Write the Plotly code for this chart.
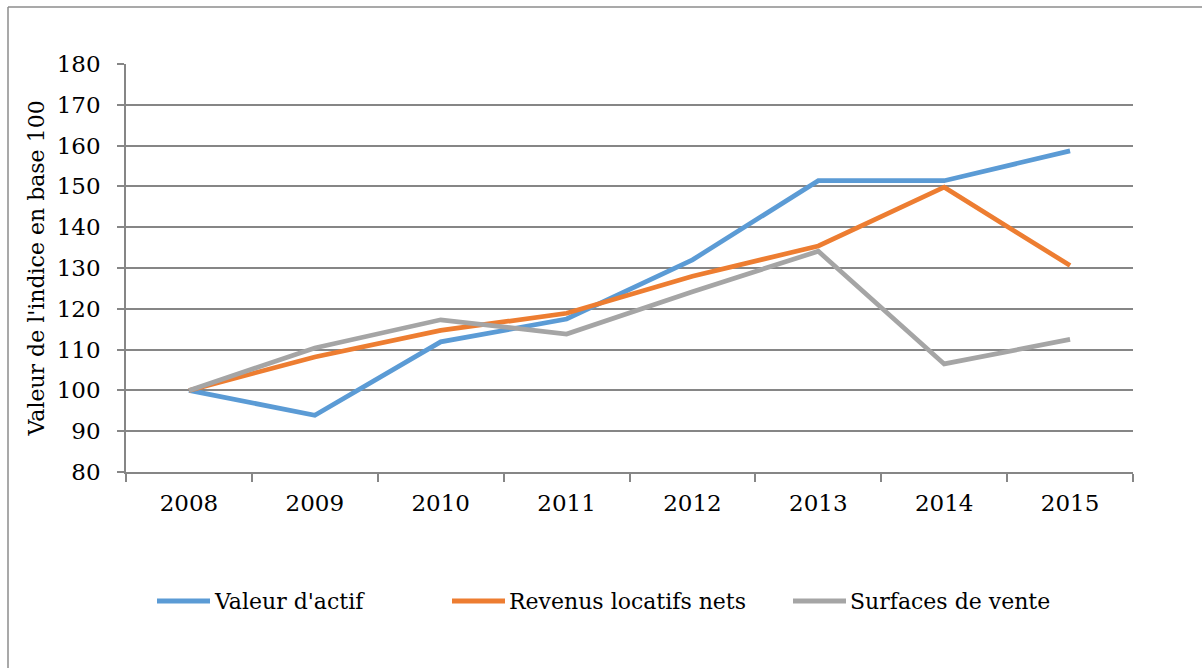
import plotly.graph_objects as go

years = ["2008", "2009", "2010", "2011", "2012", "2013", "2014", "2015"]
valeur_actif = [100, 93.9, 111.9, 117.5, 132, 151.4, 151.4, 158.7]
revenus_locatifs = [100, 108.2, 114.7, 118.9, 128, 135.4, 149.8, 130.6]
surfaces_vente = [100, 110.4, 117.3, 113.8, 124.2, 134.1, 106.5, 112.5]

series_names = ["Valeur d'actif", "Revenus locatifs nets", "Surfaces de vente"]
series_values = [valeur_actif, revenus_locatifs, surfaces_vente]
colors = ["#5B9BD5", "#ED7D31", "#A5A5A5"]

W, H = 1202, 668
ML, MR, MT, MB = 126, 69, 64, 196
PW, PH = W - ML - MR, H - MT - MB

def px_x(px):
    return (px - ML) / PW

def px_y(py):
    return (H - MB - py) / PH

FONT = "DejaVu Serif"
GRID = "#868686"

fig = go.Figure()
for name, vals, col in zip(series_names, series_values, colors):
    fig.add_trace(go.Scatter(
        x=years, y=vals, name=name, mode="lines",
        line=dict(color=col, width=4.7), showlegend=False,
    ))

# manual legend (line sample + label)
legend_x = [157, 452, 793]
legend_y = 601
shapes = []
annotations = []
for name, col, lx in zip(series_names, colors, legend_x):
    shapes.append(dict(type="line", xref="paper", yref="paper",
                       x0=px_x(lx), x1=px_x(lx + 53), y0=px_y(legend_y), y1=px_y(legend_y),
                       line=dict(color=col, width=5)))
    annotations.append(dict(xref="paper", yref="paper", x=px_x(lx + 55), y=px_y(legend_y),
                            text=name, showarrow=False, xanchor="left", yanchor="middle",
                            font=dict(family=FONT, size=22, color="#000000")))

# outer frame (left and top edges)
shapes.append(dict(type="line", xref="paper", yref="paper",
                   x0=px_x(8), x1=px_x(8), y0=px_y(7), y1=px_y(H + 5),
                   line=dict(color="#8C8C8C", width=1.5)))
shapes.append(dict(type="line", xref="paper", yref="paper",
                   x0=px_x(8), x1=px_x(W + 5), y0=px_y(7), y1=px_y(7),
                   line=dict(color="#8C8C8C", width=1.5)))

fig.update_layout(
    width=W, height=H,
    margin=dict(l=ML, r=MR, t=MT, b=MB, autoexpand=False),
    paper_bgcolor="white", plot_bgcolor="white",
    font=dict(family=FONT, color="#000000"),
    shapes=shapes, annotations=annotations,
    xaxis=dict(
        type="category", tickson="boundaries", ticks="outside", ticklen=8,
        tickcolor=GRID, tickwidth=1.5, showline=True, linecolor=GRID, linewidth=1.5,
        showgrid=False, tickfont=dict(family=FONT, size=23), ticklabelstandoff=10,
        range=[-0.5, 7.5], automargin=False,
    ),
    yaxis=dict(
        range=[80, 180], dtick=10, ticks="outside", ticklen=7,
        tickcolor=GRID, tickwidth=1.5, showline=True, linecolor=GRID, linewidth=1.5,
        showgrid=True, gridcolor=GRID, gridwidth=1.5, zeroline=False,
        tickfont=dict(family=FONT, size=23), ticklabelstandoff=12,
        title=dict(text="Valeur de l'indice en base 100", font=dict(family=FONT, size=22), standoff=6),
        automargin=False,
    ),
)

fig.write_html("out.html", config={"displayModeBar": False},
               post_script="document.body.style.margin='0';")
